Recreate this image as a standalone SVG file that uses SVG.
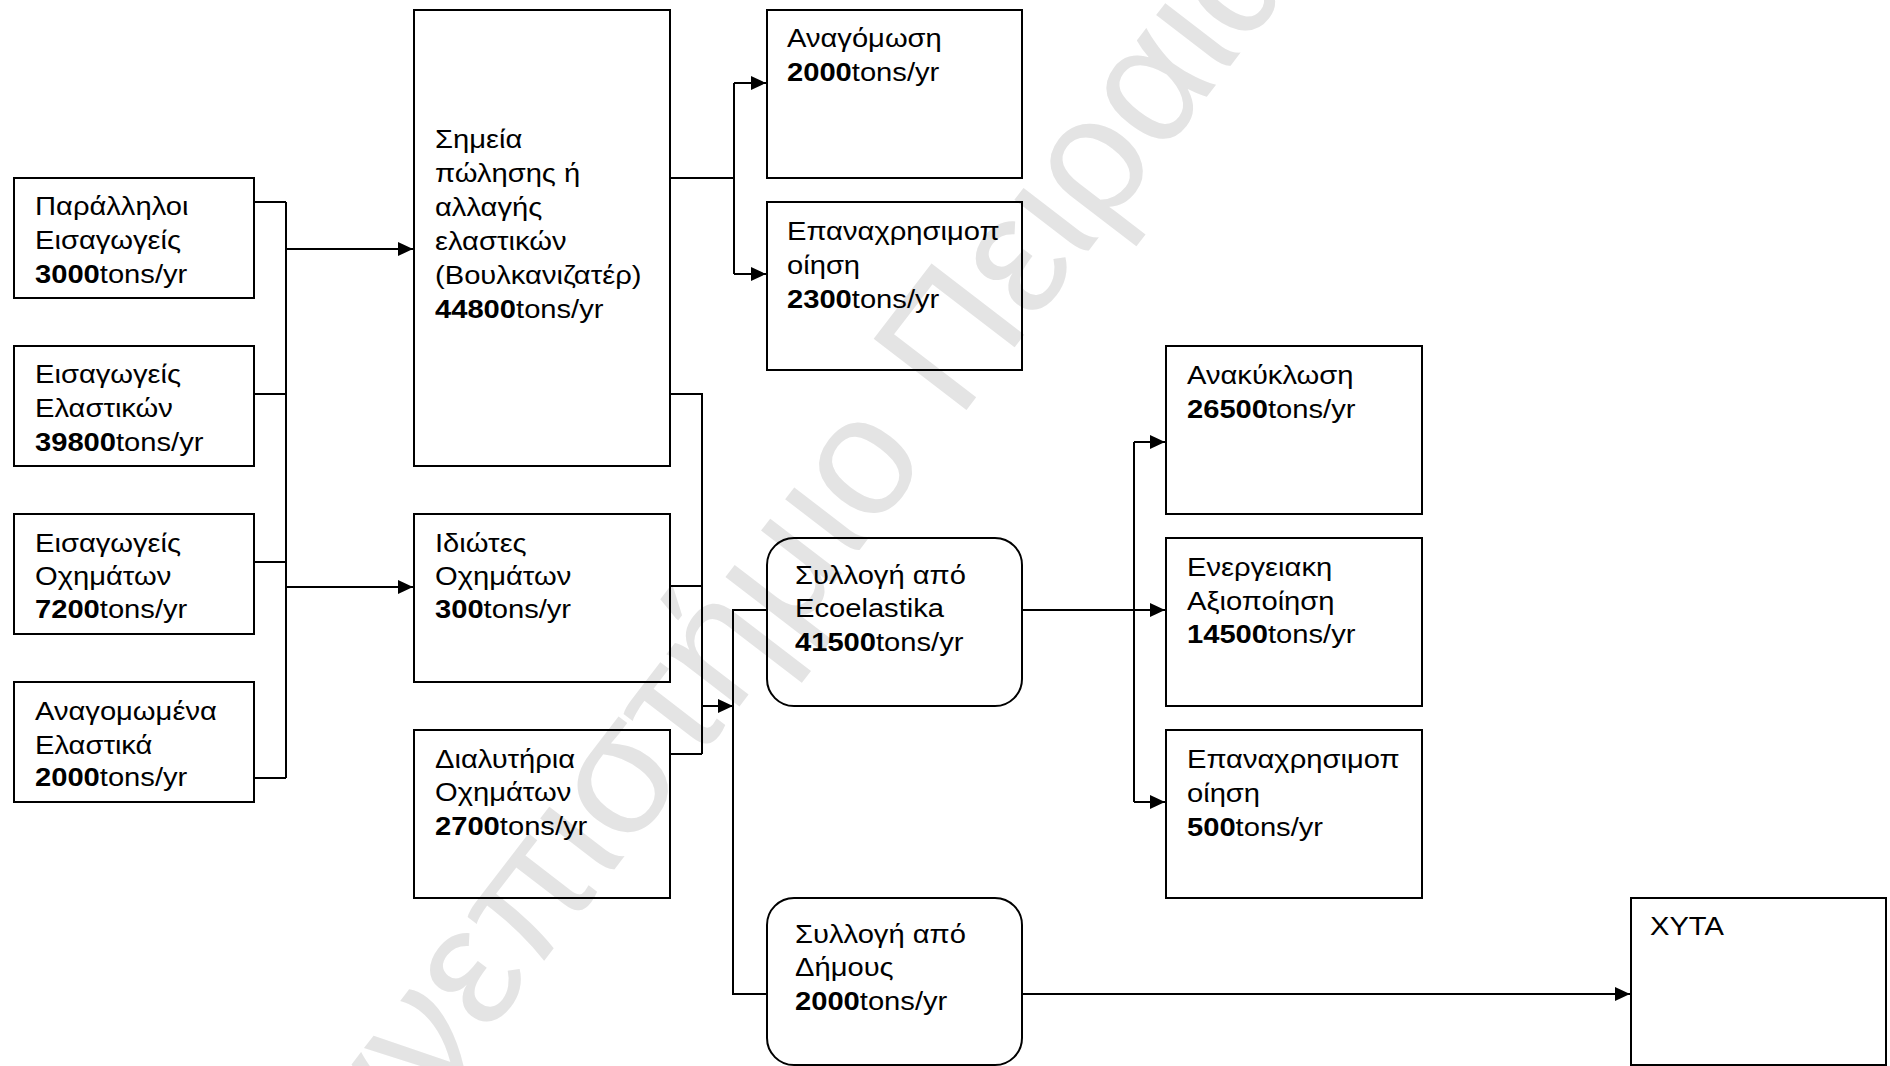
<svg xmlns="http://www.w3.org/2000/svg" width="1890" height="1066" viewBox="0 0 1890 1066">
<style>
.box{fill:none;stroke:#000;stroke-width:2}
.t{font-family:"Liberation Sans",Arial,sans-serif;font-size:26.5px;fill:#000}
.b{font-weight:bold}
.c{fill:none;stroke:#000;stroke-width:2}
.wm{font-family:"Liberation Sans",Arial,sans-serif;font-size:170px;fill:#e4e4e4}
</style>
<defs>
<marker id="ah" markerUnits="userSpaceOnUse" markerWidth="16" markerHeight="14" refX="15" refY="7" orient="auto">
<path d="M0,0 L15,7 L0,14 z" fill="#000"/>
</marker>
</defs>
<rect x="0" y="0" width="1890" height="1066" fill="#fff"/>
<g id="watermark">
<text class="wm" text-anchor="end" transform="translate(930,458) rotate(-52.5)">Πανεπιστήμιο</text>
<text class="wm" transform="translate(958,421) rotate(-52.5)">Πειραιώς</text>
</g>

<g id="connectors">
<path class="c" d="M254,202 H286 M254,394 H286 M254,562 H286 M254,778 H286 M286,202 V778"/>
<path class="c" d="M286,249 H413" marker-end="url(#ah)"/>
<path class="c" d="M286,587 H413" marker-end="url(#ah)"/>
<path class="c" d="M670,178 H734 M734,83 V274"/>
<path class="c" d="M734,83 H766" marker-end="url(#ah)"/>
<path class="c" d="M734,274 H766" marker-end="url(#ah)"/>
<path class="c" d="M670,394 H702 V754 M670,586 H702 M670,754 H702"/>
<path class="c" d="M702,706 H733" marker-end="url(#ah)"/>
<path class="c" d="M766,610 H733 V994 H766"/>
<path class="c" d="M1022,610 H1165" marker-end="url(#ah)"/>
<path class="c" d="M1134,442 V802"/>
<path class="c" d="M1134,442 H1165" marker-end="url(#ah)"/>
<path class="c" d="M1134,802 H1165" marker-end="url(#ah)"/>
<path class="c" d="M1022,994 H1630" marker-end="url(#ah)"/>
</g>

<g id="n-parallel">
<rect class="box" x="14" y="178" width="240" height="120"/>
<g transform="translate(35 0) scale(1.1 1) translate(-35 0)">
<text class="t" x="35" y="215">Παράλληλοι</text>
<text class="t" x="35" y="249">Εισαγωγείς</text>
<text class="t" x="35" y="283"><tspan class="b">3000</tspan>tons/yr</text>
</g>
</g>
<g id="n-imp-tyres">
<rect class="box" x="14" y="346" width="240" height="120"/>
<g transform="translate(35 0) scale(1.1 1) translate(-35 0)">
<text class="t" x="35" y="383">Εισαγωγείς</text>
<text class="t" x="35" y="417">Ελαστικών</text>
<text class="t" x="35" y="451"><tspan class="b">39800</tspan>tons/yr</text>
</g>
</g>
<g id="n-imp-vehicles">
<rect class="box" x="14" y="514" width="240" height="120"/>
<g transform="translate(35 0) scale(1.1 1) translate(-35 0)">
<text class="t" x="35" y="552">Εισαγωγείς</text>
<text class="t" x="35" y="585">Οχημάτων</text>
<text class="t" x="35" y="618"><tspan class="b">7200</tspan>tons/yr</text>
</g>
</g>
<g id="n-retread-tyres">
<rect class="box" x="14" y="682" width="240" height="120"/>
<g transform="translate(35 0) scale(1.1 1) translate(-35 0)">
<text class="t" x="35" y="720">Αναγομωμένα</text>
<text class="t" x="35" y="754">Ελαστικά</text>
<text class="t" x="35" y="786"><tspan class="b">2000</tspan>tons/yr</text>
</g>
</g>

<g id="n-points">
<rect class="box" x="414" y="10" width="256" height="456"/>
<g transform="translate(435 0) scale(1.1 1) translate(-435 0)">
<text class="t" x="435" y="148">Σημεία</text>
<text class="t" x="435" y="182">πώλησης ή</text>
<text class="t" x="435" y="216">αλλαγής</text>
<text class="t" x="435" y="250">ελαστικών</text>
<text class="t" x="435" y="284">(Βουλκανιζατέρ)</text>
<text class="t" x="435" y="318"><tspan class="b">44800</tspan>tons/yr</text>
</g>
</g>
<g id="n-owners">
<rect class="box" x="414" y="514" width="256" height="168"/>
<g transform="translate(435 0) scale(1.1 1) translate(-435 0)">
<text class="t" x="435" y="552">Ιδιώτες</text>
<text class="t" x="435" y="585">Οχημάτων</text>
<text class="t" x="435" y="618"><tspan class="b">300</tspan>tons/yr</text>
</g>
</g>
<g id="n-dismantlers">
<rect class="box" x="414" y="730" width="256" height="168"/>
<g transform="translate(435 0) scale(1.1 1) translate(-435 0)">
<text class="t" x="435" y="768">Διαλυτήρια</text>
<text class="t" x="435" y="801">Οχημάτων</text>
<text class="t" x="435" y="835"><tspan class="b">2700</tspan>tons/yr</text>
</g>
</g>

<g id="n-retreading">
<rect class="box" x="767" y="10" width="255" height="168"/>
<g transform="translate(787 0) scale(1.1 1) translate(-787 0)">
<text class="t" x="787" y="47">Αναγόμωση</text>
<text class="t" x="787" y="81"><tspan class="b">2000</tspan>tons/yr</text>
</g>
</g>
<g id="n-reuse1">
<rect class="box" x="767" y="202" width="255" height="168"/>
<g transform="translate(787 0) scale(1.1 1) translate(-787 0)">
<text class="t" x="787" y="240">Επαναχρησιμοπ</text>
<text class="t" x="787" y="274">οίηση</text>
<text class="t" x="787" y="308"><tspan class="b">2300</tspan>tons/yr</text>
</g>
</g>
<g id="n-ecoelastika">
<rect class="box" x="767" y="538" width="255" height="168" rx="27" ry="27"/>
<g transform="translate(795 0) scale(1.1 1) translate(-795 0)">
<text class="t" x="795" y="584">Συλλογή από</text>
<text class="t" x="795" y="617">Ecoelastika</text>
<text class="t" x="795" y="651"><tspan class="b">41500</tspan>tons/yr</text>
</g>
</g>
<g id="n-municipal">
<rect class="box" x="767" y="898" width="255" height="167" rx="27" ry="27"/>
<g transform="translate(795 0) scale(1.1 1) translate(-795 0)">
<text class="t" x="795" y="943">Συλλογή από</text>
<text class="t" x="795" y="976">Δήμους</text>
<text class="t" x="795" y="1010"><tspan class="b">2000</tspan>tons/yr</text>
</g>
</g>

<g id="n-recycling">
<rect class="box" x="1166" y="346" width="256" height="168"/>
<g transform="translate(1187 0) scale(1.1 1) translate(-1187 0)">
<text class="t" x="1187" y="384">Ανακύκλωση</text>
<text class="t" x="1187" y="418"><tspan class="b">26500</tspan>tons/yr</text>
</g>
</g>
<g id="n-energy">
<rect class="box" x="1166" y="538" width="256" height="168"/>
<g transform="translate(1187 0) scale(1.1 1) translate(-1187 0)">
<text class="t" x="1187" y="576">Ενεργειακη</text>
<text class="t" x="1187" y="610">Αξιοποίηση</text>
<text class="t" x="1187" y="643"><tspan class="b">14500</tspan>tons/yr</text>
</g>
</g>
<g id="n-reuse2">
<rect class="box" x="1166" y="730" width="256" height="168"/>
<g transform="translate(1187 0) scale(1.1 1) translate(-1187 0)">
<text class="t" x="1187" y="768">Επαναχρησιμοπ</text>
<text class="t" x="1187" y="802">οίηση</text>
<text class="t" x="1187" y="836"><tspan class="b">500</tspan>tons/yr</text>
</g>
</g>
<g id="n-landfill">
<rect class="box" x="1631" y="898" width="255" height="167"/>
<g transform="translate(1650 0) scale(1.1 1) translate(-1650 0)">
<text class="t" x="1650" y="935">ΧΥΤΑ</text>
</g>
</g>
</svg>
